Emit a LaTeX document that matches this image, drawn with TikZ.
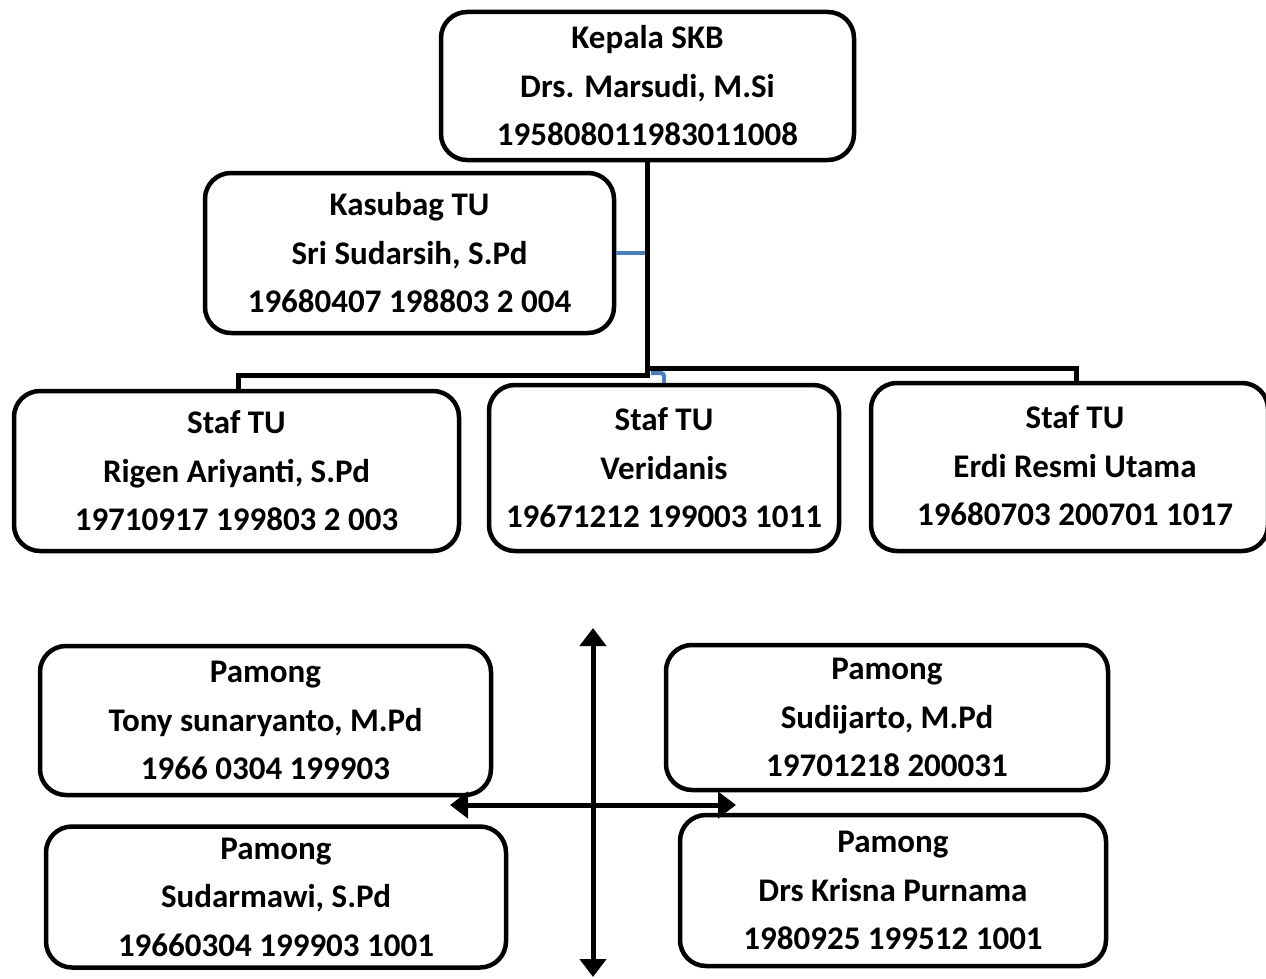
\documentclass[tikz,border=0pt]{standalone}
\usepackage{fontspec}
\setmainfont{Carlito}
\usetikzlibrary{arrows.meta,calc}
\definecolor{offblue}{HTML}{4A7EBB}
\tikzset{
  orgbox/.style={draw=black, line width=4.5pt, rounded corners=26pt, inner sep=0pt,
    align=center, font=\fontsize{33}{48.5}\selectfont\bfseries},
  trunk/.style={draw=black, line width=5pt},
  bluelink/.style={draw=offblue, line width=4pt},
  dblarrow/.style={draw=black, line width=5pt, {Triangle[width=26pt,length=18pt]}-{Triangle[width=26pt,length=18pt]}}
}
\begin{document}
\begin{tikzpicture}[x=1pt,y=-1pt]
\useasboundingbox (0,0) rectangle (1266,979);
\clip (0,0) rectangle (1266,979);
% boxes
\node[orgbox, minimum width=413pt, minimum height=148pt] (kepala) at (647.5,86) {Kepala SKB\\Drs. Marsudi, M.Si\\195808011983011008};
\node[orgbox, minimum width=409pt, minimum height=160pt] (kasubag) at (409.5,253) {Kasubag TU\\Sri Sudarsih, S.Pd\\19680407 198803 2 004};
\node[orgbox, minimum width=445pt, minimum height=160pt] (staf1) at (236.5,471) {Staf TU\\Rigen Ariyanti, S.Pd\\19710917 199803 2 003};
\node[orgbox, minimum width=350pt, minimum height=166pt] (staf2) at (664,468) {Staf TU\\Veridanis\\19671212 199003 1011};
\node[orgbox, minimum width=397pt, minimum height=168pt] (staf3) at (1069.5,467) {};
\node[font=\fontsize{33}{48.5}\selectfont\bfseries, align=center] (staf3t) at (1075,466) {Staf TU\\Erdi Resmi Utama\\19680703 200701 1017};
\node[orgbox, minimum width=451pt, minimum height=149pt] (pam1) at (265.5,720.5) {Pamong\\Tony sunaryanto, M.Pd\\1966 0304 199903};
\node[orgbox, minimum width=442pt, minimum height=145pt] (pam2) at (887,717.5) {Pamong\\Sudijarto, M.Pd\\19701218 200031};
\node[orgbox, minimum width=460pt, minimum height=141pt] (pam3) at (276,897) {Pamong\\Sudarmawi, S.Pd\\19660304 199903 1001};
\node[orgbox, minimum width=426pt, minimum height=151pt] (pam4) at (893,890.5) {Pamong\\Drs Krisna Purnama\\1980925 199512 1001};
% connector junctions
\coordinate (jL) at (238,375);
\coordinate (jR) at (1076,368);
\coordinate (jB) at (648,368);
\coordinate (jBlue) at (651,373);
\draw[bluelink] (kasubag.east) -- (kasubag.east -| kepala.south);
\draw[trunk, line cap=rect] (kepala.south) -- (kepala.south |- jL) -- (jL) -- (jL |- staf1.north);
\draw[trunk] (jB) -- (jR) -- (jR |- staf3.north);
\draw[bluelink, rounded corners=3pt] (jBlue) -- (jBlue -| staf2.north) -- (staf2.north);
% double arrows
\coordinate (vt) at (593,628);
\coordinate (vb) at (593,977);
\coordinate (hl) at (450,805);
\coordinate (hr) at (736,805);
\draw[dblarrow] (vt) -- (vb);
\draw[dblarrow] (hl) -- (hr);
\end{tikzpicture}
\end{document}
